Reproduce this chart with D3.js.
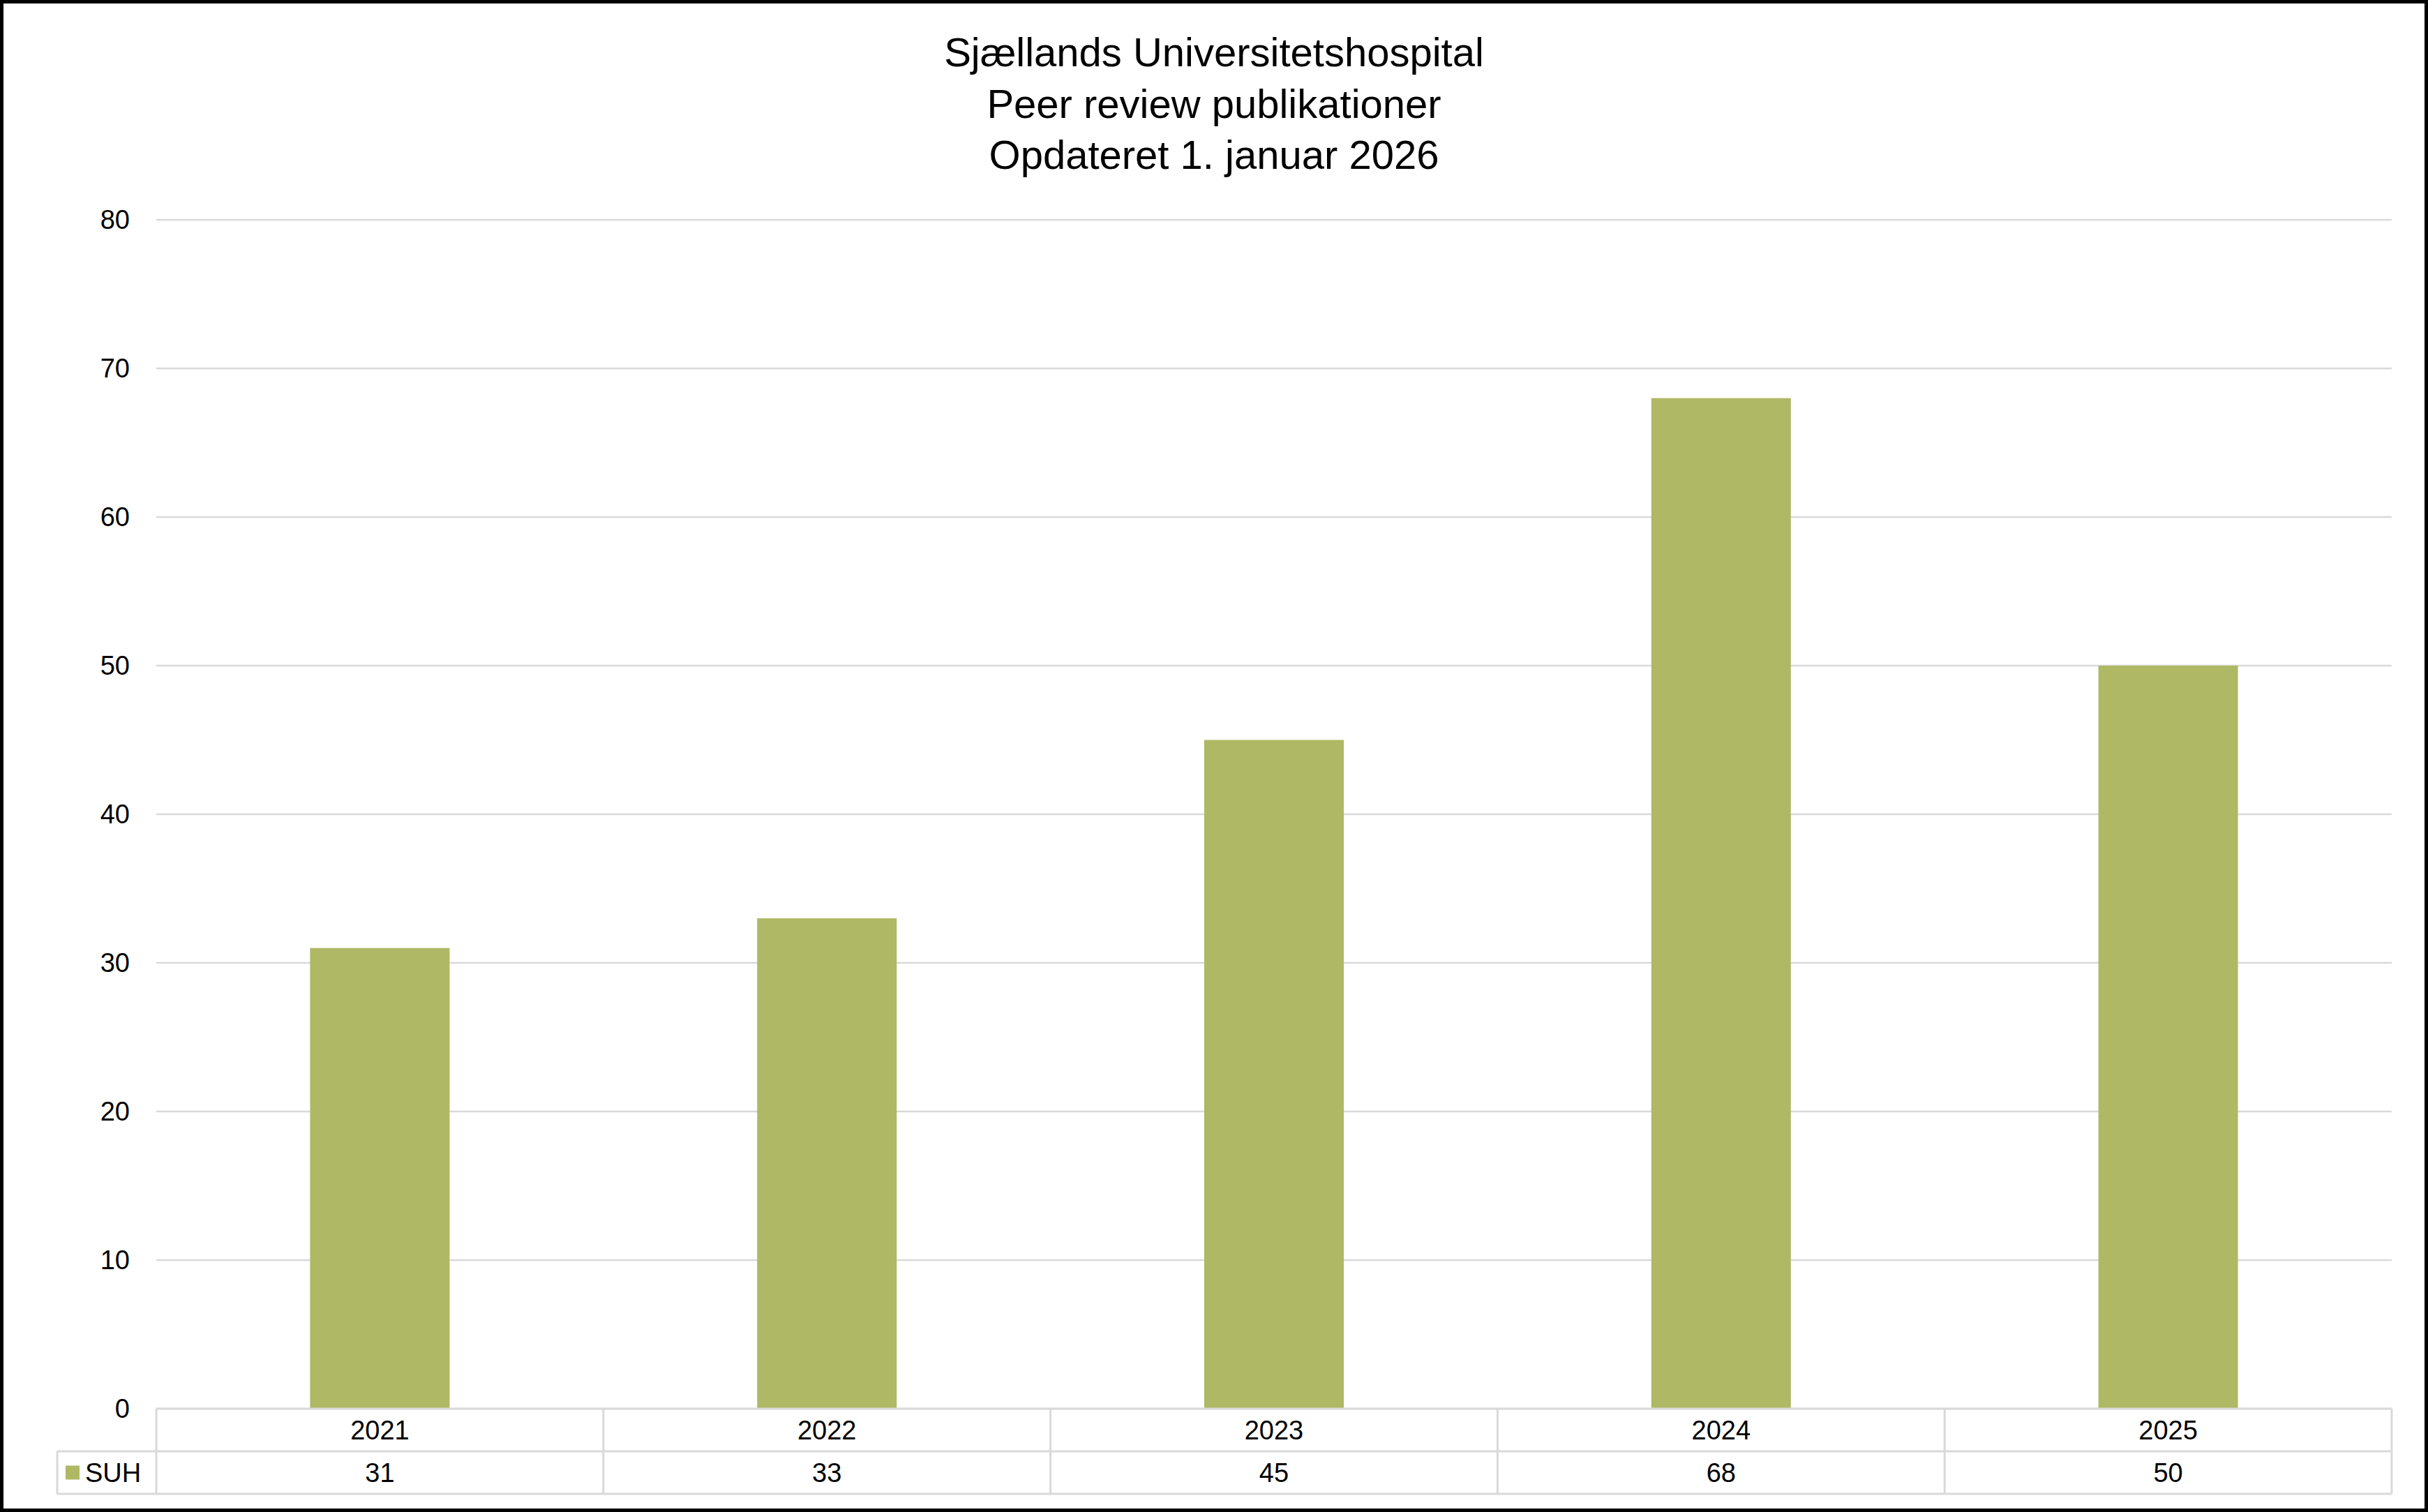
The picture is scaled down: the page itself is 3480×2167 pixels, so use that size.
<!DOCTYPE html><html><head><meta charset="utf-8"><script src="https://cdn.jsdelivr.net/npm/d3@7"></script>
<style>body{margin:0;background:#fff}svg{display:block}</style></head><body><script>
const categories=["2021","2022","2023","2024","2025"];
const values=[31,33,45,68,50];
const seriesName="SUH";
const yTicks=[0,10,20,30,40,50,60,70,80];
const titleLines=["Sjællands Universitetshospital","Peer review publikationer","Opdateret 1. januar 2026"];
const W=3480,H=2167,L=224,R=3428,T=315,B=2019,row=61;
const svg=d3.select("body").append("svg").attr("width",W).attr("height",H).style("font-family","Liberation Sans, Arial, sans-serif");
svg.append("rect").attr("x",2.5).attr("y",2.5).attr("width",W-5).attr("height",H-5).attr("fill","#fff").attr("stroke","#000").attr("stroke-width",5);
const x=d3.scaleBand().domain(categories).range([L,R]);
const y=d3.scaleLinear().domain([0,80]).range([B,T]);
svg.append("g").selectAll("line").data(yTicks).join("line").attr("x1",L).attr("x2",R).attr("y1",d=>y(d)).attr("y2",d=>y(d)).attr("stroke","#d9d9d9").attr("stroke-width",2.5);
svg.append("g").selectAll("text").data(yTicks).join("text").attr("x",L-38).attr("y",d=>y(d)).attr("dy","0.35em").attr("text-anchor","end").attr("font-size",38).text(d=>d);
const bw=200;
svg.append("g").selectAll("rect").data(values).join("rect").attr("x",(d,i)=>x(categories[i])+x.bandwidth()/2-bw/2).attr("width",bw).attr("y",d=>y(d)).attr("height",d=>y(0)-y(d)).attr("fill","#afb864");
const g=svg.append("g").attr("stroke","#d9d9d9").attr("stroke-width",3);
g.append("line").attr("x1",L).attr("x2",R).attr("y1",B).attr("y2",B);
g.append("line").attr("x1",82).attr("x2",R).attr("y1",B+row).attr("y2",B+row);
g.append("line").attr("x1",82).attr("x2",R).attr("y1",B+2*row).attr("y2",B+2*row);
g.append("line").attr("x1",82).attr("x2",82).attr("y1",B+row).attr("y2",B+2*row);
g.selectAll(".v").data(categories.concat(["end"])).join("line").attr("x1",(d,i)=>L+i*x.bandwidth()).attr("x2",(d,i)=>L+i*x.bandwidth()).attr("y1",B).attr("y2",B+2*row);
svg.append("g").selectAll("text").data(categories).join("text").attr("x",d=>x(d)+x.bandwidth()/2).attr("y",B+row/2).attr("dy","0.35em").attr("text-anchor","middle").attr("font-size",38).text(d=>d);
svg.append("g").selectAll("text").data(values).join("text").attr("x",(d,i)=>x(categories[i])+x.bandwidth()/2).attr("y",B+1.5*row).attr("dy","0.35em").attr("text-anchor","middle").attr("font-size",38).text(d=>d);
svg.append("rect").attr("x",94).attr("y",B+1.5*row-10).attr("width",20).attr("height",20).attr("fill","#afb864");
svg.append("text").attr("x",122).attr("y",B+1.5*row).attr("dy","0.35em").attr("font-size",38).text(seriesName);
svg.append("g").selectAll("text").data(titleLines).join("text").attr("x",W/2+(L+R-W)/2*0).attr("y",(d,i)=>75+i*73.5).attr("dy","0.35em").attr("text-anchor","middle").attr("font-size",58).text(d=>d);
</script></body></html>
